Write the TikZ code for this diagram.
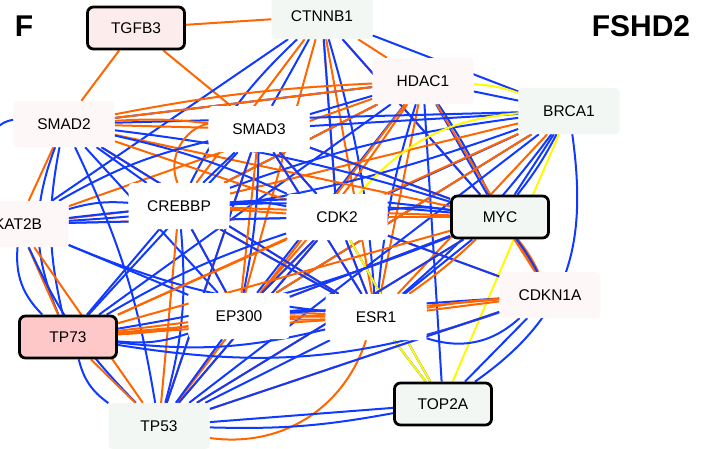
\documentclass[tikz,border=0pt]{standalone}
\usepackage{fontspec}
\setmainfont{Liberation Sans}
\usetikzlibrary{backgrounds}

\definecolor{oline}{RGB}{255,102,0}
\definecolor{bline}{RGB}{16,58,255}
\definecolor{yline}{RGB}{255,250,0}
\definecolor{pinkfill}{RGB}{253,236,236}
\definecolor{rosefill}{RGB}{255,200,200}
\definecolor{mintfill}{RGB}{242,247,243}
\definecolor{blushfill}{RGB}{253,247,247}

\begin{document}
\begin{tikzpicture}[x=1pt,y=-1pt,
  gene/.style={rectangle,rounded corners=4pt,minimum width=101pt,minimum height=46pt,
    inner sep=0pt,font=\fontsize{15.5}{18}\selectfont},
  hub/.style={gene,draw=black,line width=2.8pt,rounded corners=6pt,
    minimum width=97pt,minimum height=42pt},
  oe/.style={draw=oline,line width=2pt},
  be/.style={draw=bline,line width=2pt},
  ye/.style={draw=yline,line width=2pt}]
  \useasboundingbox (0,0) rectangle (707,448);

  % genes
  \node[hub,fill=pinkfill]   (tgfb3)  at (136,28)  {TGFB3};
  \node[gene,fill=mintfill]  (ctnnb1) at (322,16)  {CTNNB1};
  \node[gene,fill=blushfill] (hdac1)  at (423,81)  {HDAC1};
  \node[gene,fill=mintfill]  (brca1)  at (569,111) {BRCA1};
  \node[gene,fill=blushfill] (smad2)  at (64,124)  {SMAD2};
  \node[gene,fill=white]     (smad3)  at (259,129) {SMAD3};
  \node[gene,fill=white]     (crebbp) at (179,206) {CREBBP};
  \node[gene,fill=blushfill] (kat2b)  at (18,224)  {KAT2B};
  \node[gene,fill=white]     (cdk2)   at (337,217) {CDK2};
  \node[hub,fill=mintfill]   (myc)    at (500,217) {MYC};
  \node[gene,fill=blushfill] (cdkn1a) at (550,295) {CDKN1A};
  \node[hub,fill=rosefill]   (tp73)   at (68,337)  {TP73};
  \node[gene,fill=white]     (ep300)  at (239,316) {EP300};
  \node[gene,fill=white]     (esr1)   at (376,317) {ESR1};
  \node[gene,fill=mintfill]  (tp53)   at (159,426) {TP53};
  \node[hub,fill=mintfill]   (top2a)  at (443,404) {TOP2A};

  \node[font=\fontsize{30}{30}\selectfont\bfseries] (panel) at (24,26)  {F};
  \node[font=\fontsize{30}{30}\selectfont\bfseries] (title) at (641,26) {FSHD2};

  % interactions
  \begin{pgfonlayer}{background}
  \path (tgfb3) edge[oe] (ctnnb1) edge[oe] (smad2) edge[oe] (smad3);
  \path (ctnnb1) edge[oe] (crebbp) edge[oe] (ep300) edge[oe] (hdac1)
               edge[oe] (cdk2) edge[oe] (myc) edge[oe] (esr1)
               edge[be] (kat2b) edge[be,bend right=10] (crebbp) edge[be] (smad3)
               edge[be] (brca1) edge[be] (cdk2) edge[be] (myc) edge[be,bend left=6] (esr1);
  \path (hdac1) edge[be] (brca1) edge[ye,bend left=8] (brca1)
               edge[be] (myc) edge[be,bend left=4] (myc)
               edge[be] (smad3) edge[be] (smad2) edge[be] (crebbp) edge[be] (ep300)
               edge[be] (tp73) edge[be] (top2a) edge[be,bend right=6] (esr1)
               edge[oe] (smad2) edge[oe] (crebbp) edge[oe,bend left=4] (ep300)
               edge[oe] (tp53) edge[oe] (cdkn1a) edge[oe] (esr1) edge[oe] (kat2b);
  \path (brca1) edge[be] (smad3) edge[be,bend right=6] (crebbp) edge[be] (cdk2)
               edge[be] (myc) edge[be,bend left=5] (myc) edge[be] (ep300)
               edge[be] (tp53) edge[be,bend left=6] (esr1)
               edge[be,out=-82,in=35,looseness=1.1] (top2a)
               edge[be,bend left=8] (kat2b) edge[be] (smad2)
               edge[oe] (crebbp) edge[oe] (esr1) edge[oe] (ep300) edge[oe] (tp73)
               edge[ye] (top2a) edge[ye,bend right=22] (cdk2);
  \path (smad2) edge[oe] (smad3) edge[oe,bend left=5] (smad3) edge[oe,bend left=4] (hdac1)
               edge[oe] (myc) edge[oe] (cdk2) edge[oe] (kat2b) edge[oe] (esr1)
               edge[be,bend right=70] (kat2b) edge[be] (crebbp)
               edge[be,bend right=12] (tp73) edge[be,bend right=22] (tp73)
               edge[be,bend left=8] (tp53) edge[be] (ep300) edge[be,bend left=6] (cdk2)
               edge[be] (esr1) edge[be,bend left=5] (myc);
  \path (smad3) edge[oe,bend right=50] (crebbp) edge[oe] (myc) edge[oe] (cdk2)
               edge[oe] (ep300) edge[oe] (esr1) edge[oe] (tp53)
               edge[be] (crebbp) edge[be] (cdk2) edge[be,bend left=5] (ep300)
               edge[be] (tp53) edge[be] (esr1) edge[be] (myc) edge[be,bend right=8] (kat2b)
               edge[be] (tp73);
  \path (crebbp) edge[oe] (kat2b) edge[oe] (cdk2) edge[oe] (myc) edge[oe] (esr1)
               edge[oe] (tp53) edge[oe] (ep300)
               edge[be,bend right=10] (kat2b) edge[be] (tp73) edge[be,bend left=10] (tp53)
               edge[be] (ep300) edge[be,bend left=8] (cdk2) edge[be] (esr1) edge[be,bend left=6] (myc);
  \path (kat2b) edge[oe] (tp73) edge[oe] (tp53) edge[oe] (cdk2)
               edge[be,bend right=25] (tp73) edge[be,bend right=10] (tp53)
               edge[be] (ep300) edge[be,bend right=8] (esr1) edge[be] (cdk2) edge[be,bend left=6] (myc);
  \path (cdk2) edge[oe] (myc) edge[oe] (ep300) edge[oe] (esr1) edge[oe] (tp73)
               edge[oe] (cdkn1a) edge[oe] (tp53)
               edge[be,bend left=8] (myc) edge[be] (ep300) edge[be] (esr1) edge[be] (tp53)
               edge[be,bend right=6] (tp73) edge[be] (top2a) edge[be] (cdkn1a)
               edge[ye] (top2a);
  \path (myc) edge[oe] (ep300) edge[oe] (tp73) edge[oe,bend left=4] (esr1) edge[oe] (tp53)
               edge[oe] (cdkn1a) edge[oe,bend left=6] (cdkn1a)
               edge[be] (ep300) edge[be] (esr1) edge[be] (tp53) edge[be,bend left=6] (tp73)
               edge[be,bend left=4] (cdkn1a);
  \path (ep300) edge[oe] (esr1) edge[oe,bend left=3] (esr1) edge[oe,bend right=3] (esr1)
               edge[oe] (tp73) edge[oe,bend left=4] (tp73)
               edge[be,bend left=6] (esr1) edge[be,bend left=12] (tp73) edge[be] (tp53)
               edge[be] (cdkn1a);
  \path (esr1) edge[oe] (cdkn1a) edge[oe,bend left=3] (cdkn1a) edge[oe,bend left=40] (tp53)
               edge[oe] (tp73)
               edge[be,bend left=10] (tp73) edge[be] (tp53) edge[be,bend right=30] (cdkn1a)
               edge[be] (top2a) edge[ye] (top2a);
  \path (tp73) edge[oe] (tp53) edge[oe] (cdkn1a)
               edge[be,bend right=20] (tp53) edge[be,bend right=14] (cdkn1a);
  \path (tp53) edge[oe] (cdkn1a) edge[be] (top2a) edge[be,bend right=6] (top2a) edge[be] (cdkn1a);
  \path (cdkn1a) edge[be] (top2a);
  \end{pgfonlayer}
\end{tikzpicture}
\end{document}
